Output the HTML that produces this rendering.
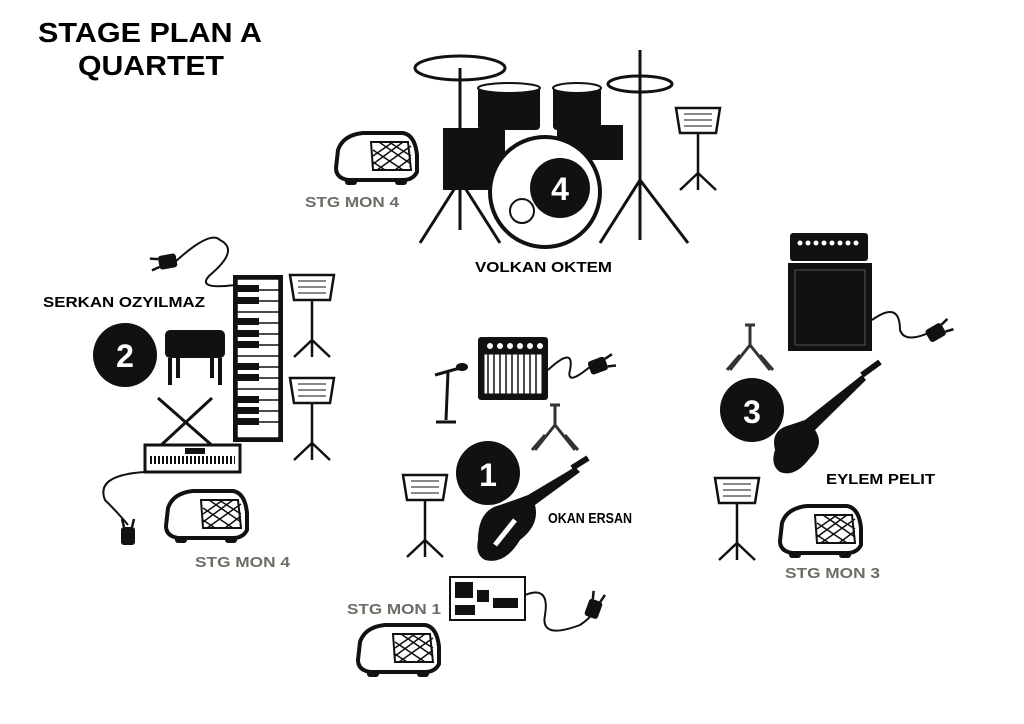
<!DOCTYPE html>
<html><head><meta charset="utf-8"><style>
html,body{margin:0;padding:0;background:#fff;}
svg{display:block;}
text{font-family:"Liberation Sans",sans-serif;font-weight:bold;}
</style></head><body>
<svg width="1024" height="724" viewBox="0 0 1024 724" xmlns="http://www.w3.org/2000/svg">
<defs>
<g id="mon">
  <path d="M5,20 Q10,5 30,3 L70,3 Q82,5 84,25 L84,42 Q80,50 70,50 L15,50 Q3,48 3,38 Z" fill="#fff" stroke="#111" stroke-width="4"/>
  <path d="M38,12 L75,12 L78,40 L40,40 Z" fill="none" stroke="#111" stroke-width="2"/>
  <path d="M40,20 L70,40 M46,12 L78,34 M56,12 L78,26 M40,32 L52,40 M78,16 L44,40 M70,12 L40,34 M60,12 L40,26 M78,28 L62,40" stroke="#111" stroke-width="1.5"/>
  <rect x="12" y="48" width="12" height="7" rx="3" fill="#111"/><rect x="62" y="48" width="12" height="7" rx="3" fill="#111"/>
</g>
<g id="stand">
  <path d="M0,0 L44,0 L40,25 L4,25 Z" fill="#fff" stroke="#111" stroke-width="2.5"/>
  <path d="M8,6 L36,6 M8,12 L36,12 M8,18 L36,18" stroke="#111" stroke-width="1"/>
  <path d="M22,25 L22,75 M22,65 L4,82 M22,65 L40,82 M22,65 L22,82" stroke="#111" stroke-width="2.5" fill="none"/>
</g>
<g id="plug">
  <rect x="0" y="0" width="14" height="18" rx="3" fill="#111"/>
  <path d="M3,0 L1,-8 M11,0 L13,-8" stroke="#111" stroke-width="2.5"/>
</g>
<g id="gstand">
  <path d="M0,0 L10,0 M5,0 L5,20 M5,20 L-15,45 M5,20 L25,45 M-18,45 L-5,30 M28,45 L15,30" stroke="#333" stroke-width="3" fill="none"/>
</g>
</defs>

<text x="38" y="42" font-size="28" font-weight="900" textLength="224" lengthAdjust="spacingAndGlyphs">STAGE PLAN A</text>
<text x="78" y="75" font-size="28" font-weight="900" textLength="146" lengthAdjust="spacingAndGlyphs">QUARTET</text>

<!-- Drum kit -->
<ellipse cx="460" cy="68" rx="45" ry="12" fill="#fff" stroke="#111" stroke-width="3"/>
<path d="M460,68 L460,230 M460,180 L420,243 M460,180 L500,243" stroke="#111" stroke-width="3" fill="none"/>
<ellipse cx="640" cy="84" rx="32" ry="8" fill="#fff" stroke="#111" stroke-width="3"/>
<path d="M640,50 L640,240 M640,180 L600,243 M640,180 L688,243" stroke="#111" stroke-width="3" fill="none"/>
<rect x="443" y="128" width="62" height="62" fill="#111"/>
<rect x="557" y="125" width="66" height="35" fill="#111"/>
<rect x="478" y="85" width="62" height="45" rx="4" fill="#111"/>
<rect x="553" y="85" width="48" height="45" rx="4" fill="#111"/>
<ellipse cx="509" cy="88" rx="31" ry="5" fill="#fff" stroke="#111" stroke-width="2"/>
<ellipse cx="577" cy="88" rx="24" ry="5" fill="#fff" stroke="#111" stroke-width="2"/>
<circle cx="545" cy="192" r="55" fill="#fff" stroke="#111" stroke-width="4"/>
<circle cx="522" cy="211" r="12" fill="#fff" stroke="#111" stroke-width="2"/>
<circle cx="560" cy="188" r="30" fill="#111"/>
<text x="560" y="200" font-size="32" fill="#fff" text-anchor="middle">4</text>
<text x="475" y="272" font-size="15" textLength="137" lengthAdjust="spacingAndGlyphs">VOLKAN OKTEM</text>
<use href="#stand" x="676" y="108"/>
<use href="#mon" x="333" y="130"/>
<text x="305" y="207" font-size="15" fill="#6b6e64" textLength="94" lengthAdjust="spacingAndGlyphs">STG MON 4</text>

<!-- Keys player -->
<text x="43" y="307" font-size="15" textLength="162" lengthAdjust="spacingAndGlyphs">SERKAN OZYILMAZ</text>
<circle cx="125" cy="355" r="32" fill="#111"/>
<text x="125" y="367" font-size="32" fill="#fff" text-anchor="middle">2</text>
<rect x="233" y="275" width="50" height="167" fill="#111"/>
<rect x="237" y="279" width="42" height="159" fill="#fff" stroke="#111" stroke-width="1.5"/>
<path d="M237,290 L279,290 M237,301 L279,301 M237,312 L279,312 M237,323 L279,323 M237,334 L279,334 M237,345 L279,345 M237,356 L279,356 M237,367 L279,367 M237,378 L279,378 M237,389 L279,389 M237,400 L279,400 M237,411 L279,411 M237,422 L279,422" stroke="#111" stroke-width="1.5"/>
<g fill="#111"><rect x="237" y="285" width="22" height="7"/><rect x="237" y="297" width="22" height="7"/><rect x="237" y="318" width="22" height="7"/><rect x="237" y="330" width="22" height="7"/><rect x="237" y="341" width="22" height="7"/><rect x="237" y="363" width="22" height="7"/><rect x="237" y="374" width="22" height="7"/><rect x="237" y="396" width="22" height="7"/><rect x="237" y="407" width="22" height="7"/><rect x="237" y="418" width="22" height="7"/></g>
<rect x="165" y="330" width="60" height="28" rx="5" fill="#111"/>
<path d="M170,358 L170,385 M220,358 L220,385 M178,358 L178,378 M212,358 L212,378" stroke="#111" stroke-width="4"/>
<path d="M158,398 L215,448 M212,398 L158,448" stroke="#111" stroke-width="3"/>
<rect x="145" y="445" width="95" height="27" fill="#fff" stroke="#111" stroke-width="3"/>
<path d="M150,460 L235,460" stroke="#111" stroke-width="8" stroke-dasharray="2,2"/>
<rect x="185" y="448" width="20" height="6" fill="#111"/>
<use href="#stand" x="290" y="275"/>
<use href="#stand" x="290" y="378"/>
<path d="M175,262 Q210,230 220,240 Q240,250 210,275 Q195,290 235,285" fill="none" stroke="#111" stroke-width="2"/>
<g transform="translate(160,270) rotate(-100)"><use href="#plug"/></g>
<path d="M145,472 Q95,475 105,500 Q120,515 128,525" fill="none" stroke="#111" stroke-width="2"/>
<use href="#plug" x="121" y="527"/>
<use href="#mon" x="163" y="488"/>
<text x="195" y="567" font-size="15" fill="#6b6e64" textLength="95" lengthAdjust="spacingAndGlyphs">STG MON 4</text>

<!-- Guitar 1 -->
<rect x="478" y="337" width="70" height="63" rx="3" fill="#111"/>
<rect x="484" y="354" width="58" height="40" fill="#fff" stroke="#111"/>
<path d="M488,354 L488,394 M494,354 L494,394 M500,354 L500,394 M506,354 L506,394 M512,354 L512,394 M518,354 L518,394 M524,354 L524,394 M530,354 L530,394 M536,354 L536,394" stroke="#111" stroke-width="1.5"/>
<g fill="#fff"><circle cx="490" cy="346" r="3"/><circle cx="500" cy="346" r="3"/><circle cx="510" cy="346" r="3"/><circle cx="520" cy="346" r="3"/><circle cx="530" cy="346" r="3"/><circle cx="540" cy="346" r="3"/></g>
<path d="M548,370 Q575,345 570,370 Q565,390 600,358" fill="none" stroke="#111" stroke-width="2"/>
<g transform="translate(604,356) rotate(70)"><use href="#plug"/></g>
<path d="M435,375 L460,368 M448,372 L446,420 M436,422 L456,422" stroke="#111" stroke-width="3"/>
<ellipse cx="462" cy="367" rx="6" ry="4" fill="#111"/>
<use href="#gstand" x="550" y="405"/>
<circle cx="488" cy="473" r="32" fill="#111"/>
<text x="488" y="486" font-size="32" fill="#fff" text-anchor="middle">1</text>
<path d="M478,540 Q478,510 500,505 Q515,500 528,495 L575,467 L580,472 L535,505 Q540,525 520,540 Q505,565 485,560 Q475,555 478,540 Z" fill="#111"/>
<path d="M572,468 L588,458" stroke="#111" stroke-width="6"/>
<path d="M495,545 L515,520" stroke="#fff" stroke-width="5"/>
<text x="548" y="523" font-size="15" textLength="84" lengthAdjust="spacingAndGlyphs">OKAN ERSAN</text>
<use href="#stand" x="403" y="475"/>
<rect x="450" y="577" width="75" height="43" fill="#fff" stroke="#111" stroke-width="2"/>
<rect x="455" y="582" width="18" height="16" fill="#111"/><rect x="477" y="590" width="12" height="12" fill="#111"/><rect x="493" y="598" width="25" height="10" fill="#111"/>
<rect x="455" y="605" width="20" height="10" fill="#111"/>
<path d="M525,595 Q550,585 545,615 Q540,640 580,625 Q595,615 596,605" fill="none" stroke="#111" stroke-width="2"/>
<g transform="translate(590,598) rotate(20)"><use href="#plug"/></g>
<text x="347" y="614" font-size="15" fill="#6b6e64" textLength="94" lengthAdjust="spacingAndGlyphs">STG MON 1</text>
<use href="#mon" x="355" y="622"/>

<!-- Bass 3 -->
<rect x="790" y="233" width="78" height="28" rx="3" fill="#111"/>
<g fill="#fff"><circle cx="800" cy="243" r="2.5"/><circle cx="808" cy="243" r="2.5"/><circle cx="816" cy="243" r="2.5"/><circle cx="824" cy="243" r="2.5"/><circle cx="832" cy="243" r="2.5"/><circle cx="840" cy="243" r="2.5"/><circle cx="848" cy="243" r="2.5"/><circle cx="856" cy="243" r="2.5"/></g>
<rect x="788" y="263" width="84" height="88" fill="#111"/>
<rect x="795" y="270" width="70" height="75" fill="#111" stroke="#555" stroke-width="1"/>
<path d="M872,320 Q900,300 900,330 Q905,345 935,330" fill="none" stroke="#111" stroke-width="2"/>
<g transform="translate(940,322) rotate(60)"><use href="#plug"/></g>
<use href="#gstand" x="745" y="325"/>
<circle cx="752" cy="410" r="32" fill="#111"/>
<text x="752" y="423" font-size="32" fill="#fff" text-anchor="middle">3</text>
<path d="M775,450 Q770,430 790,425 L805,420 L862,375 L866,380 L815,430 Q825,445 810,458 Q795,478 780,472 Q770,465 775,450 Z" fill="#111"/>
<path d="M862,375 L880,362" stroke="#111" stroke-width="6"/>
<text x="826" y="484" font-size="15" textLength="109" lengthAdjust="spacingAndGlyphs">EYLEM PELIT</text>
<use href="#stand" x="715" y="478"/>
<use href="#mon" x="777" y="503"/>
<text x="785" y="578" font-size="15" fill="#6b6e64" textLength="95" lengthAdjust="spacingAndGlyphs">STG MON 3</text>
</svg>
</body></html>
